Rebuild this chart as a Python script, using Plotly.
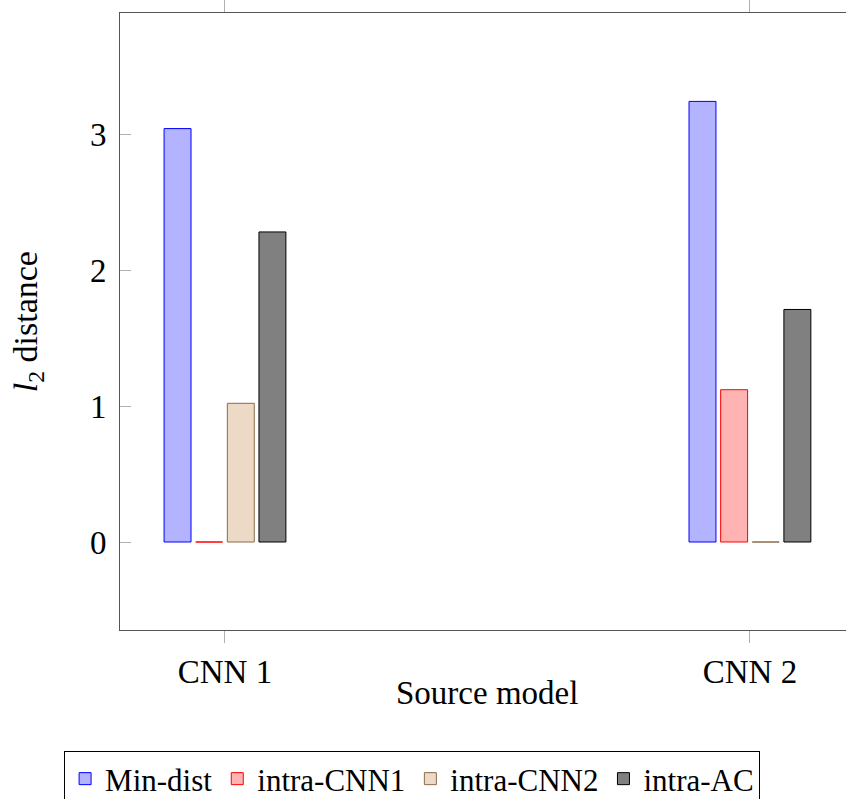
import plotly.graph_objects as go

categories = ["CNN 1", "CNN 2"]
series_names = ["Min-dist", "intra-CNN1", "intra-CNN2", "intra-AC"]
min_dist = [3.04, 3.24]
intra_cnn1 = [0.0, 1.12]
intra_cnn2 = [1.02, 0.0]
intra_ac = [2.28, 1.71]
y_ticks = [0, 1, 2, 3]

values = [min_dist, intra_cnn1, intra_cnn2, intra_ac]
fills = ["#b3b3ff", "#ffb3b3", "#ecd9c6", "#808080"]
strokes = ["#0000ff", "#ff0000", "#8c6b4a", "#000000"]

FONT = "Liberation Serif"
fig = go.Figure()
for name, vals, fc, sc in zip(series_names, values, fills, strokes):
    fig.add_trace(go.Bar(x=categories, y=vals, name=name,
                         marker=dict(color=fc, line=dict(color=sc, width=1))))

fig.update_layout(
    width=846, height=799,
    margin=dict(l=120, r=0, t=13, b=169, autoexpand=False),
    paper_bgcolor="white", plot_bgcolor="white",
    barmode="group", bargap=0.759, bargroupgap=0.148,
    font=dict(family=FONT, size=33, color="black"),
    showlegend=True,
    legend=dict(orientation="h", x=-0.077, xanchor="left", y=-0.1961, yanchor="top",
                bordercolor="black", borderwidth=1, bgcolor="white",
                font=dict(family=FONT, size=31, color="black"),
                itemwidth=30, tracegroupgap=0),
)
fig.update_xaxes(range=[-0.2, 1.183], showline=True, linecolor="#555555", linewidth=1,
                 mirror="ticks", ticks="outside", ticklen=12, tickcolor="#b0b0b0",
                 showgrid=False, zeroline=False, tickfont=dict(size=33))
fig.update_yaxes(range=[-0.647, 3.89], tickvals=y_ticks, showline=True, linecolor="#555555",
                 linewidth=1, mirror=False, ticks="inside", ticklen=11, tickcolor="#b0b0b0",
                 showgrid=False, zeroline=False, tickfont=dict(size=33), ticklabelstandoff=6)
fig.add_annotation(x=0.5, xref="x", y=-0.102, yref="paper", yanchor="middle",
                   text="Source model", showarrow=False, font=dict(family=FONT, size=33))
fig.add_annotation(x=-0.127, xref="paper", xanchor="center", y=0.5, yref="paper",
                   yanchor="middle", textangle=-90,
                   text="<i>l</i><sub>2</sub> distance", showarrow=False,
                   font=dict(family=FONT, size=34))
fig.write_html("out.html", config={"displayModeBar": False},
               post_script="document.body.style.margin='0';document.body.style.overflow='hidden';")
